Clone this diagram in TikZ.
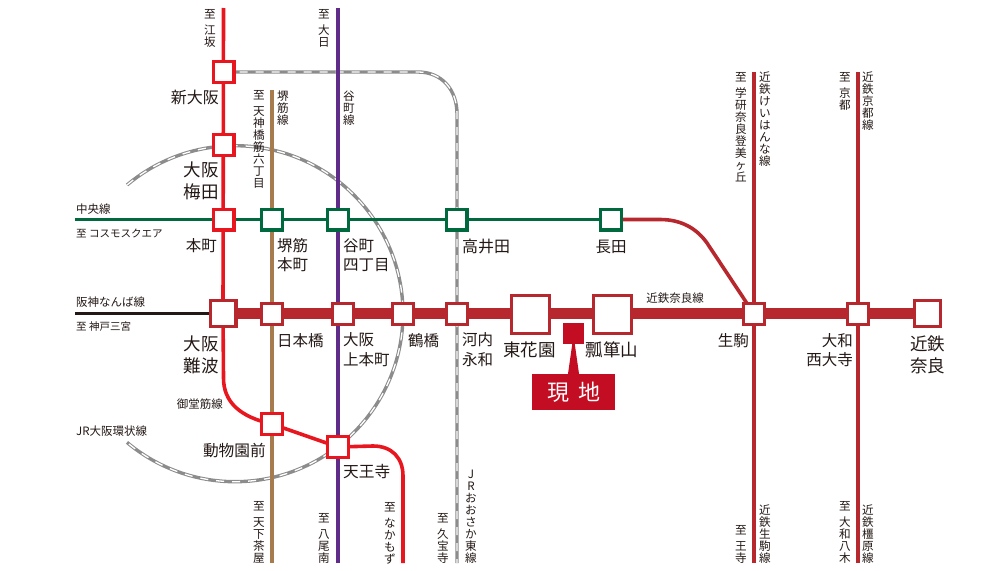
\documentclass[tikz,border=0pt]{standalone}
\usepackage{fontspec}
\setmainfont{Noto Sans CJK JP}
\usetikzlibrary{calc}
\pgfdeclarelayer{bg}
\pgfsetlayers{bg,main}
\definecolor{ink}{HTML}{231815}
\definecolor{redline}{HTML}{E8171F}
\definecolor{greenline}{HTML}{00693E}
\definecolor{brownline}{HTML}{A67C4E}
\definecolor{purpleline}{HTML}{5F2C8A}
\definecolor{kint}{HTML}{B7282E}
\definecolor{jrgray}{HTML}{8C8C8C}
\definecolor{site}{HTML}{C30D23}
\tikzset{
  x=1pt,y=-1pt,
  sqbase/.style={draw,fill=white,inner sep=0pt,line width=3.4pt,minimum size=20.6pt},
  redst/.style={sqbase,draw=redline},
  greenst/.style={sqbase,draw=greenline},
  kst/.style={sqbase,draw=kint,line width=3pt,minimum size=21pt},
  kstbig/.style={sqbase,draw=kint,line width=3.4pt,minimum size=25.6pt},
  ksthuge/.style={sqbase,draw=kint,line width=3pt,minimum size=38pt},
  lbig/.style={inner sep=0pt,text=ink,font=\fontsize{17.5}{22}\selectfont},
  lmid/.style={inner sep=0pt,text=ink,font=\fontsize{15.5}{19.5}\selectfont},
  lsmall/.style={inner sep=0pt,text=ink,font=\fontsize{11.5}{14}\selectfont},
  vtxt/.style={inner sep=0pt,text=ink,align=center,font=\fontsize{11.6}{12}\selectfont},
  rline/.style={draw=redline,line width=3.6pt},
  gline/.style={draw=greenline,line width=3.8pt},
  bline/.style={draw=brownline,line width=3.6pt},
  pline/.style={draw=purpleline,line width=3.6pt},
  kline/.style={draw=kint,line width=3.6pt},
  kthick/.style={draw=kint,line width=11.5pt},
  hline/.style={draw=ink,line width=3.4pt},
  jrline/.style={draw=jrgray,line width=3.4pt,postaction={draw=white,line width=1.3pt,dash pattern=on 8pt off 8pt}},
}
\begin{document}
\begin{tikzpicture}
\useasboundingbox (0,0) rectangle (1000,570);
% stations
\node[redst] (shin) at (223.5,72) {};
\node[redst] (ume) at (223.5,145) {};
\node[redst] (hon) at (223.5,219.5) {};
\node[greenst] (sakh) at (272,219.5) {};
\node[greenst] (tani4) at (338,219.5) {};
\node[greenst] (taka) at (456.5,219.5) {};
\node[greenst] (naga) at (611,219.5) {};
\node[kstbig] (namba) at (223,313.5) {};
\node[kst] (nipp) at (272,313.5) {};
\node[kst] (uehon) at (343,313.5) {};
\node[kst] (tsuru) at (403,313.5) {};
\node[kst] (kawa) at (457,313.5) {};
\node[ksthuge] (higa) at (530.5,314) {};
\node[ksthuge] (hyo) at (612.5,314) {};
\node[kst] (ikoma) at (754,314) {};
\node[kst] (saidai) at (858,314) {};
\node[kstbig] (nara) at (927.5,313.5) {};
\node[redst] (dobu) at (272,424) {};
\node[redst] (tenn) at (338,447) {};
% free ends
\coordinate (midoN) at (223.5,8);
\coordinate (nakaS) at (403,563);
\coordinate (sakaN) at (272,90);
\coordinate (sakaS) at (272,563);
\coordinate (taniN) at (338,8);
\coordinate (taniS) at (338,563);
\coordinate (chuoW) at (75,219.5);
\coordinate (hanW) at (75,313.5);
\coordinate (keiN) at (754,72);
\coordinate (keiS) at (754,563);
\coordinate (kyoN) at (858,72);
\coordinate (kyoS) at (858,563);
\coordinate (higaS) at (457,563);
\coordinate (loopS) at (127,185);
\begin{pgfonlayer}{bg}
  \draw[jrline] (loopS) arc[start angle=230,end angle=490,radius=168];
  \draw[jrline] (shin.center) -- (418,72) .. controls (442,72) and (457,90) .. (457,114) -- (higaS);
  \draw[rline] (midoN) -- (namba.center) -- (223.5,378) .. controls (223.5,402) and (240,417) .. (dobu.center);
  \draw[rline] (dobu.center) -- (tenn.center);
  \draw[rline] (tenn.center) -- (373,446) .. controls (392,446) and (403,458) .. (403,476) -- (nakaS);
  \draw[bline] (sakaN) -- (sakaS);
  \draw[pline] (taniN) -- (taniS);
  \draw[gline] (chuoW) -- (naga.center);
  \draw[kline] (naga.center) -- (660,219.5) .. controls (682,219.5) and (697,229) .. (707,243) -- (ikoma.center);
  \draw[hline] (hanW) -- (namba.center);
  \draw[kthick] (namba.center) -- (nara.center);
  \draw[kline] (keiN) -- (keiS);
  \draw[kline] (kyoN) -- (kyoS);
\end{pgfonlayer}
% site marker
\node[fill=site,inner sep=0pt,minimum size=21pt] (genchi) at (573.5,333) {};
\node[fill=site,inner sep=0pt,minimum width=83pt,minimum height=36pt,text=white,font=\fontsize{22}{24}\selectfont] (genbox) at (573.5,392) {現\hspace{9pt}地};
\fill[site] ([xshift=-1.2pt]genchi.south) -- ([xshift=1.2pt]genchi.south) -- ([xshift=5.5pt]genbox.north) -- ([xshift=-5.5pt]genbox.north) -- cycle;
% station labels
\node[lmid,font=\fontsize{16}{20}\selectfont,anchor=east] (tshin) at (219,97) {新大阪};
\node[lbig,anchor=east,align=right] (tume) at (219,181) {大阪\\梅田};
\node[lmid,anchor=east] (thon) at (217,246) {本町};
\node[lmid,anchor=west,align=left] (tsak) at (277,255) {堺筋\\本町};
\node[lmid,anchor=west,align=left] (ttani) at (343,255) {谷町\\四丁目};
\node[lmid,font=\fontsize{16}{20}\selectfont,anchor=west] (ttaka) at (462,246) {高井田};
\node[lmid] (tnaga) at (611,247) {長田};
\node[lbig,anchor=east,align=right] (tnamba) at (219,355) {大阪\\難波};
\node[lmid,anchor=west] (tnipp) at (277,341) {日本橋};
\node[lmid,anchor=west,align=left] (tue) at (343,349.5) {大阪\\上本町};
\node[lmid,anchor=west] (ttsu) at (408,341) {鶴橋};
\node[lmid,anchor=west,align=left] (tkawa) at (462,349.5) {河内\\永和};
\node[lbig] (thiga) at (529.5,349.5) {東花園};
\node[lbig] (thyo) at (612,350) {瓢箪山};
\node[lmid,anchor=east] (tiko) at (749,341) {生駒};
\node[lmid,anchor=east,align=right] (tsai) at (853,350) {大和\\西大寺};
\node[lbig,align=center] (tnara) at (927.5,355) {近鉄\\奈良};
\node[lmid,anchor=east,font=\fontsize{15.7}{19}\selectfont] (tdob) at (266,451) {動物園前};
\node[lmid,anchor=west,font=\fontsize{15.7}{19}\selectfont] (tten) at (343,472) {天王寺};
% line labels, horizontal
\node[lsmall,anchor=west] (tchuo) at (76,209) {中央線};
\node[lsmall,anchor=west,font=\fontsize{10.5}{12}\selectfont] (tcos) at (76,233) {至 コスモスクエア};
\node[lsmall,anchor=west] (thans) at (76,302) {阪神なんば線};
\node[lsmall,anchor=west,font=\fontsize{10.5}{12}\selectfont] (tkob) at (76,327) {至 神戸三宮};
\node[lsmall] (tknl) at (675,298) {近鉄奈良線};
\node[lsmall,anchor=east] (tmido) at (223,404) {御堂筋線};
\node[lsmall,anchor=west] (tjrl) at (76,431) {JR大阪環状線};
% line labels, vertical
\node[vtxt,anchor=north] (v1) at (210,9) {至\\[4pt]江\\坂};
\node[vtxt,anchor=north] (v2) at (324,9) {至\\[4pt]大\\日};
\node[vtxt,anchor=north] (v3) at (259,90) {至\\[4pt]天\\神\\橋\\筋\\六\\丁\\目};
\node[vtxt,anchor=north] (v4) at (283,91) {堺\\筋\\線};
\node[vtxt,anchor=north] (v5) at (349,91) {谷\\町\\線};
\node[vtxt,anchor=south] (v6) at (259,564) {至\\[4pt]天\\下\\茶\\屋};
\node[vtxt,anchor=south] (v7) at (324,564) {至\\[4pt]八\\尾\\南};
\node[vtxt,anchor=south] (v8) at (390,564) {至\\[4pt]な\\か\\も\\ず};
\node[vtxt,anchor=south] (v9) at (443,564) {至\\[4pt]久\\宝\\寺};
\node[vtxt,anchor=south] (v10) at (471,564) {J\\R\\お\\お\\さ\\か\\東\\線};
\node[vtxt,anchor=north] (v11) at (741,72) {至\\[4pt]学\\研\\奈\\良\\登\\美\\ヶ\\丘};
\node[vtxt,anchor=north] (v12) at (765,72) {近\\鉄\\け\\い\\は\\ん\\な\\線};
\node[vtxt,anchor=north] (v13) at (845,72) {至\\[4pt]京\\都};
\node[vtxt,anchor=north] (v14) at (868,72) {近\\鉄\\京\\都\\線};
\node[vtxt,anchor=south] (v15) at (741,564) {至\\[4pt]王\\寺};
\node[vtxt,anchor=south] (v16) at (765,564) {近\\鉄\\生\\駒\\線};
\node[vtxt,anchor=south] (v17) at (845,564) {至\\[4pt]大\\和\\八\\木};
\node[vtxt,anchor=south] (v18) at (868,564) {近\\鉄\\橿\\原\\線};
\end{tikzpicture}
\end{document}
